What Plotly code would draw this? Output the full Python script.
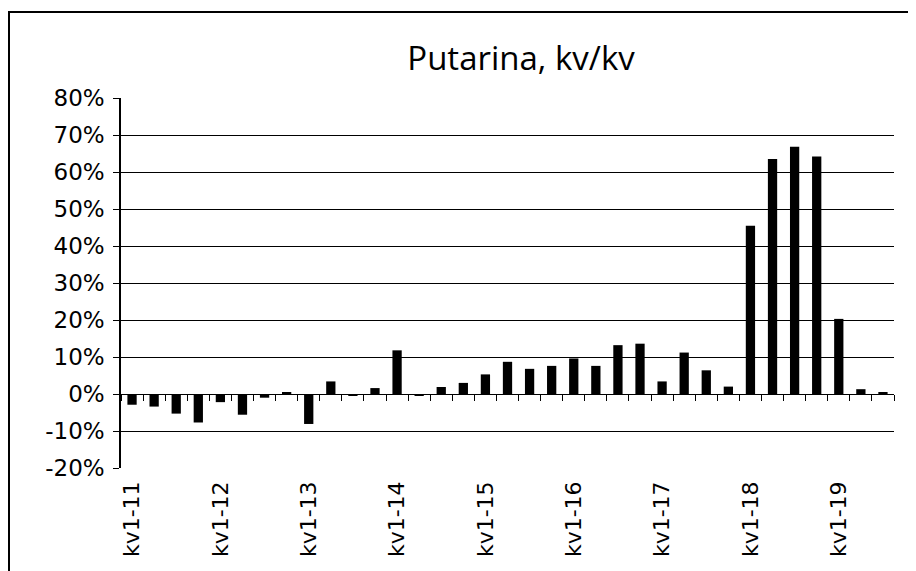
import plotly.graph_objects as go

years = ["11", "12", "13", "14", "15", "16", "17", "18", "19"]
quarters = ["kv1", "kv2", "kv3", "kv4"]
categories = [f"{q}-{y}" for y in years for q in quarters][:35]

# quarter-on-quarter change, percent
values = [
    -2.9, -3.4, -5.3, -7.7,
    -2.2, -5.6, -1.0, 0.4,
    -8.1, 3.4, -0.3, 1.6,
    11.8, -0.4, 1.9, 3.0,
    5.3, 8.7, 6.8, 7.6,
    9.6, 7.6, 13.2, 13.6,
    3.4, 11.2, 6.4, 2.0,
    45.5, 63.5, 66.8, 64.2,
    20.3, 1.3, 0.3,
]

label_cats = [c for c in categories if c.startswith("kv1")]
y_ticks = list(range(-20, 90, 10))
y_text = [f"{v}%" for v in y_ticks]

n = len(categories)
boundaries = [i - 0.5 for i in range(n + 1)]

Y_FONT = dict(family="DejaVu Sans", size=23, color="black")
X_FONT = dict(family="DejaVu Sans", size=22, color="black")

fig = go.Figure()
fig.add_trace(go.Bar(
    x=categories, y=values,
    marker=dict(color="black", line=dict(width=0)),
    showlegend=False,
))
# helper (invisible) trace so the zero-crossing category axis is drawn
fig.add_trace(go.Scatter(
    x=list(range(n)), y=values, xaxis="x2", mode="none",
    showlegend=False, hoverinfo="skip",
))

fig.update_layout(
    width=908, height=563, autosize=False,
    margin=dict(l=113, r=22, t=90, b=103),
    paper_bgcolor="white", plot_bgcolor="white",
    bargap=0.58,
    title=dict(text="Putarina, kv/kv", x=0.565, xanchor="center", y=0.91, yanchor="middle",
               font=dict(family="Open Sans", size=33, color="black")),
    xaxis=dict(
        type="category", categoryorder="array", categoryarray=categories,
        tickmode="array", tickvals=label_cats, ticktext=label_cats,
        tickangle=-90, ticks="", showgrid=False, showline=False, zeroline=False,
        tickfont=X_FONT, ticklabelstandoff=8,
    ),
    xaxis2=dict(
        type="linear", overlaying="x", anchor="free", position=0.2,
        range=[-0.5, n - 0.5], tickmode="array", tickvals=boundaries,
        ticks="outside", ticklen=6, tickcolor="black", tickwidth=1,
        showline=True, linecolor="black", linewidth=1,
        showticklabels=False, showgrid=False, zeroline=False,
    ),
    yaxis=dict(
        range=[-20, 80], tickmode="array", tickvals=y_ticks, ticktext=y_text,
        showgrid=True, gridcolor="black", gridwidth=1,
        ticks="outside", ticklen=6, tickcolor="black",
        showline=True, linecolor="black", linewidth=1.5,
        zeroline=False, tickfont=Y_FONT, ticklabelstandoff=4,
    ),
)

# outer chart frame (partially visible in the reference)
fig.add_shape(type="rect", xref="paper", yref="paper",
              x0=(9 - 121) / 773, x1=1.2, y0=-0.5, y1=(468 - 12) / 370,
              line=dict(color="black", width=2), fillcolor="rgba(0,0,0,0)", layer="below")

fig.write_html("out.html")
